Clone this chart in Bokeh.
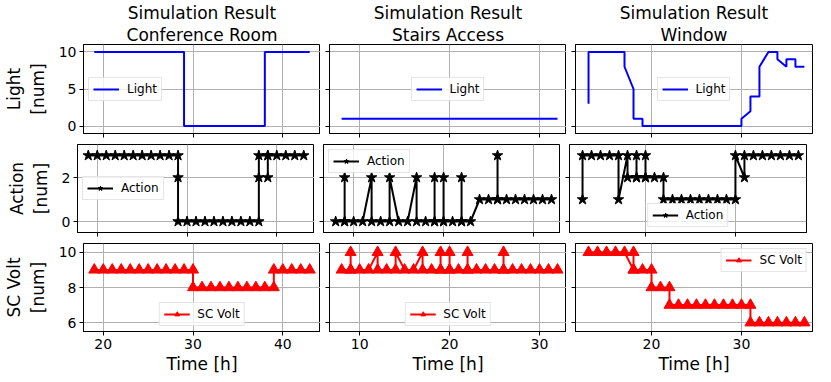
from bokeh.plotting import figure
from bokeh.layouts import column, row
from bokeh.models import Range1d, Title
from bokeh.embed import file_html
from bokeh.resources import INLINE

# ---------------- data ----------------
title_top = ["Simulation Result", "Simulation Result", "Simulation Result"]
title_sub = ["Conference Room", "Stairs Access", "Window"]
row_labels = ["Light\n[num]", "Action\n[num]", "SC Volt\n[num]"]
series_names = ["Light", "Action", "SC Volt"]
x_ticks = [[20, 30, 40], [10, 20, 30], [20, 30]]
y_ticks = [[0, 5, 10], [0, 2], [6, 8, 10]]

# Conference Room
conf_light_t = [19, 20, 21, 22, 23, 24, 25, 26, 27, 28, 29, 29, 30, 31, 32, 33, 34, 35, 36, 37, 38, 38, 39, 40, 41, 42, 43]
conf_light_v = [10, 10, 10, 10, 10, 10, 10, 10, 10, 10, 10, 0, 0, 0, 0, 0, 0, 0, 0, 0, 0, 10, 10, 10, 10, 10, 10]
conf_action_t = [19, 20, 21, 22, 23, 24, 25, 26, 27, 28, 29, 29, 29, 30, 31, 32, 33, 34, 35, 36, 37, 38, 38, 38, 39, 39, 39, 40, 41, 42, 43]
conf_action_v = [3, 3, 3, 3, 3, 3, 3, 3, 3, 3, 3, 2, 0, 0, 0, 0, 0, 0, 0, 0, 0, 0, 2, 3, 3, 2, 3, 3, 3, 3, 3]
conf_volt_t = [19, 20, 21, 22, 23, 24, 25, 26, 27, 28, 29, 30, 30, 31, 32, 33, 34, 35, 36, 37, 38, 39, 39, 40, 41, 42, 43]
conf_volt_v = [9, 9, 9, 9, 9, 9, 9, 9, 9, 9, 9, 9, 8, 8, 8, 8, 8, 8, 8, 8, 8, 8, 9, 9, 9, 9, 9]

# Stairs Access
stairs_light_t = [8, 9, 10, 11, 12, 13, 14, 15, 16, 17, 18, 19, 20, 21, 22, 23, 24, 25, 26, 27, 28, 29, 30, 31, 32]
stairs_light_v = [1, 1, 1, 1, 1, 1, 1, 1, 1, 1, 1, 1, 1, 1, 1, 1, 1, 1, 1, 1, 1, 1, 1, 1, 1]
stairs_action_t = [8, 9, 9, 9, 10, 11, 12, 12, 13, 14, 14, 15, 16, 17, 17, 18, 19, 19, 19, 20, 20, 20, 21, 22, 22, 22,
                   23, 24, 25, 26, 26, 26, 27, 28, 29, 30, 31, 32]
stairs_action_v = [0, 0, 2, 0, 0, 0, 2, 0, 0, 0, 2, 0, 0, 2, 0, 0, 0, 2, 0, 0, 2, 0, 0, 0, 2, 0,
                   0, 1, 1, 1, 3, 1, 1, 1, 1, 1, 1, 1]
stairs_volt_t = [8, 9, 9, 9, 10, 11, 12, 12, 13, 14, 14, 15, 16, 17, 17, 18, 19, 19, 19, 20, 20, 20, 21, 22, 22, 22,
                 23, 24, 25, 26, 26, 26, 27, 28, 29, 30, 31, 32]
stairs_volt_v = [9, 9, 10, 9, 9, 9, 10, 9, 9, 9, 10, 9, 9, 10, 9, 9, 9, 10, 9, 9, 10, 9, 9, 9, 10, 9,
                 9, 9, 9, 9, 10, 9, 9, 9, 9, 9, 9, 9]

# Window
win_light_t = [13, 13, 14, 15, 16, 17, 17, 18, 18, 19, 19, 20, 21, 22, 23, 24, 25, 26, 27, 28, 29, 30, 30, 31, 31,
               32, 32, 33, 34, 34, 35, 35, 36, 36, 37]
win_light_v = [3, 10, 10, 10, 10, 10, 8, 5, 1, 1, 0, 0, 0, 0, 0, 0, 0, 0, 0, 0, 0, 0, 1, 2, 4,
               4, 8, 10, 10, 9, 8, 9, 9, 8, 8]
win_action_t = [13, 13, 14, 15, 16, 17, 17, 18, 18, 19, 19, 19, 20, 20, 20, 21, 22, 22, 23, 24, 25, 26, 27, 28, 29,
                30, 30, 31, 31, 32, 33, 34, 35, 36, 37]
win_action_v = [1, 3, 3, 3, 3, 3, 1, 3, 2, 2, 3, 2, 2, 3, 2, 2, 2, 1, 1, 1, 1, 1, 1, 1, 1,
                1, 3, 2, 3, 3, 3, 3, 3, 3, 3]
win_volt_t = [13, 14, 15, 16, 17, 18, 18, 18, 19, 20, 20, 21, 22, 22, 23, 24, 25, 26, 27, 28, 29, 30, 31, 31,
              32, 33, 34, 35, 36, 37]
win_volt_v = [10, 10, 10, 10, 10, 9, 10, 9, 9, 9, 8, 8, 8, 7, 7, 7, 7, 7, 7, 7, 7, 7, 7, 6,
              6, 6, 6, 6, 6, 6]

data = [
    [(conf_light_t, conf_light_v), (stairs_light_t, stairs_light_v), (win_light_t, win_light_v)],
    [(conf_action_t, conf_action_v), (stairs_action_t, stairs_action_v), (win_action_t, win_action_v)],
    [(conf_volt_t, conf_volt_v), (stairs_volt_t, stairs_volt_v), (win_volt_t, win_volt_v)],
]

# ---------------- styling / layout ----------------
FONT = "DejaVu Sans"
colors = ["#0000ff", "black", "#ff0000"]
markers = [None, "star", "triangle"]
legend_locs = [["center_left", "center", "center"],
               ["center_left", "top_left", "bottom_center"],
               ["bottom_center", "bottom_center", "top_right"]]

x_ranges = [Range1d(17.8, 44.2), Range1d(6.65, 33.0), Range1d(11.55, 37.9)]
y_ranges = [Range1d(-1.0, 11.0), Range1d(-0.5, 3.5), Range1d(5.5, 10.5)]

FW = 237
frame_h = [89, 88, 88]
b_left = [77, 9, 9]
b_right = [0, 0, 1]
b_top = [33, 1, 1]
b_bottom = [10, 10, 44]


def hide_labels(ax):
    ax.major_label_text_font_size = "1px"
    ax.major_label_text_color = None
    ax.major_label_standoff = 0


rows = []
for r in range(3):
    figs = []
    for c in range(3):
        p = figure(frame_width=FW, frame_height=frame_h[r],
                   x_range=x_ranges[c], y_range=y_ranges[r],
                   output_backend="svg", toolbar_location=None,
                   min_border_left=b_left[c], min_border_right=b_right[c],
                   min_border_top=b_top[r], min_border_bottom=b_bottom[r])
        p.outline_line_color = "black"
        p.outline_line_alpha = 1.0
        p.outline_line_width = 1
        p.background_fill_color = "white"
        p.border_fill_color = "white"
        p.grid.grid_line_color = "#b0b0b0"
        p.grid.grid_line_width = 1
        p.xaxis.ticker = x_ticks[c]
        p.yaxis.ticker = y_ticks[r]
        for ax in p.axis:
            ax.major_tick_out = 4
            ax.major_tick_in = 0
            ax.minor_tick_line_color = None
            ax.axis_line_color = "black"
            ax.major_tick_line_color = "black"
            ax.major_label_text_font = FONT
            ax.major_label_text_font_size = "14px"
            ax.major_label_text_color = "black"
            ax.axis_label_text_font = FONT
            ax.axis_label_text_font_size = "17px"
            ax.axis_label_text_font_style = "normal"
            ax.axis_label_text_color = "black"
        if c == 0:
            p.yaxis.axis_label = row_labels[r]
            p.yaxis.axis_label_standoff = 8
            p.yaxis.major_label_standoff = 3
        else:
            hide_labels(p.yaxis[0])
        if r == 2:
            p.xaxis.axis_label = "Time [h]"
            p.xaxis.major_label_standoff = 3
            p.xaxis.axis_label_standoff = 2
        else:
            hide_labels(p.xaxis[0])
        if r == 0:
            p.title.text = title_top[c]
            p.title.align = "center"
            p.title.text_font = FONT
            p.title.text_font_size = "17px"
            p.title.text_font_style = "normal"
            p.title.text_color = "black"
            p.title.standoff = 0
            p.title.offset = 0
            t2 = Title(text=title_sub[c], align="center", text_font=FONT, text_font_size="17px",
                       text_font_style="normal", text_color="black", standoff=0)
            p.add_layout(t2, "above")

        t, v = data[r][c]
        p.line(t, v, line_color=colors[r], line_width=2, legend_label=series_names[r])
        if markers[r] is not None:
            p.scatter(t, v, marker=markers[r], size=11, fill_color=colors[r], line_color=colors[r],
                      legend_label=series_names[r])
        lg = p.legend[0]
        lg.location = legend_locs[r][c]
        lg.label_text_font = FONT
        lg.label_text_font_size = "12px"
        lg.label_text_color = "black"
        lg.glyph_width = 26
        lg.glyph_height = 12
        lg.label_height = 12
        lg.label_standoff = 8
        lg.padding = 4
        lg.margin = 5
        lg.spacing = 0
        lg.border_line_color = "#cccccc"
        lg.border_line_width = 1
        lg.background_fill_color = "white"
        lg.background_fill_alpha = 0.8
        figs.append(p)
    rows.append(row(*figs))

layout = column(*rows)
open("out.html", "w").write(file_html(layout, INLINE))
